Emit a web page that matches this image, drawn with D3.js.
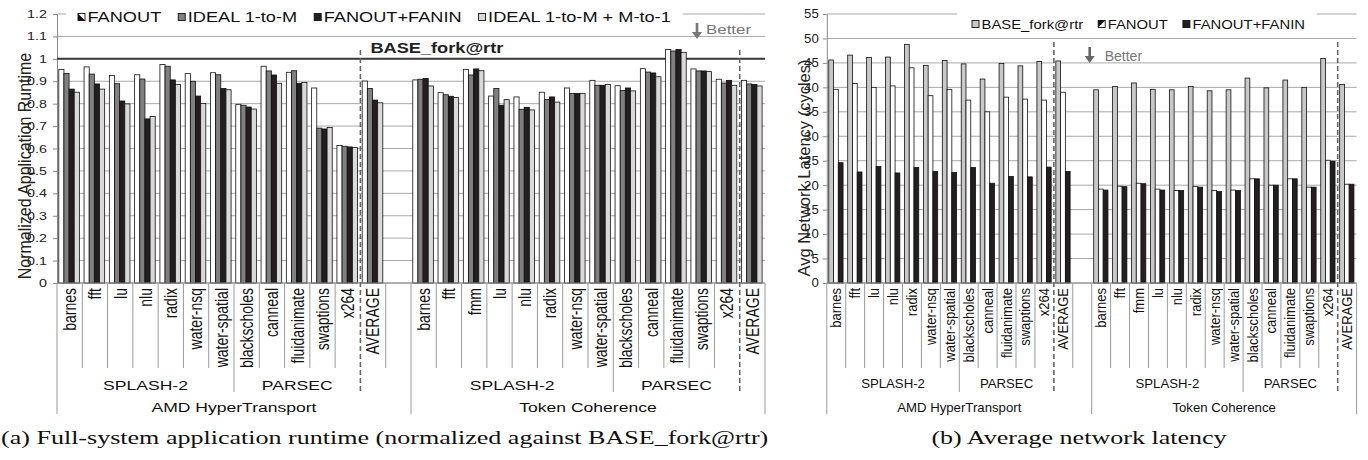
<!DOCTYPE html>
<html>
<head>
<meta charset="utf-8">
<script src="https://cdn.jsdelivr.net/npm/d3@7"></script>
<style>
  body { margin: 0; background: #fff; }
  svg { display: block; }
</style>
</head>
<body>
<svg id="fig" width="1368" height="460"></svg>
<script>
// ---- benchmarks ----
const amdBench = ["barnes","fft","lu","nlu","radix","water-nsq","water-spatial","blackscholes","canneal","fluidanimate","swaptions","x264","AVERAGE"];
const tcBench  = ["barnes","fft","fmm","lu","nlu","radix","water-nsq","water-spatial","blackscholes","canneal","fluidanimate","swaptions","x264","AVERAGE"];
const parsecBench = ["blackscholes","canneal","fluidanimate","swaptions","x264"];
const groups = ["AMD HyperTransport", "Token Coherence"];

// ---- (a) normalized runtime ----
const rtSeries = ["FANOUT", "IDEAL 1-to-M", "FANOUT+FANIN", "IDEAL 1-to-M + M-to-1"];
const rtFanoutAMD    = [0.953,0.964,0.926,0.929,0.975,0.934,0.938,0.797,0.967,0.940,0.870,0.613,0.901];
const rtIdeal1MAMD   = [0.935,0.932,0.889,0.910,0.967,0.900,0.929,0.793,0.946,0.947,0.691,0.610,0.868];
const rtFaninAMD     = [0.865,0.888,0.812,0.732,0.906,0.834,0.868,0.785,0.928,0.891,0.687,0.607,0.816];
const rtIdealBothAMD = [0.851,0.865,0.799,0.743,0.886,0.801,0.862,0.776,0.891,0.894,0.694,0.604,0.804];
const rtFanoutTC     = [0.906,0.849,0.953,0.834,0.830,0.851,0.870,0.904,0.880,0.956,1.042,0.955,0.909,0.904];
const rtIdeal1MTC    = [0.909,0.840,0.928,0.868,0.775,0.818,0.846,0.882,0.859,0.941,1.035,0.946,0.892,0.888];
const rtFaninTC      = [0.912,0.833,0.955,0.793,0.784,0.830,0.846,0.882,0.870,0.937,1.042,0.946,0.904,0.886];
const rtIdealBothTC  = [0.879,0.827,0.947,0.818,0.772,0.807,0.846,0.886,0.857,0.920,1.029,0.943,0.882,0.879];
const rtTicks = [0,0.1,0.2,0.3,0.4,0.5,0.6,0.7,0.8,0.9,1,1.1,1.2];

// ---- (b) network latency ----
const latSeries = ["BASE_fork@rtr", "FANOUT", "FANOUT+FANIN"];
const latBaseAMD   = [45.6,46.6,46.1,46.2,48.8,44.5,45.5,44.8,41.7,44.9,44.4,45.3,45.4];
const latFanoutAMD = [39.6,40.8,40.0,40.3,44.0,38.3,39.6,37.4,35.0,38.0,37.6,37.4,39.0];
const latFaninAMD  = [24.6,22.7,23.8,22.5,23.6,22.8,22.6,23.6,20.4,21.8,21.7,23.7,22.8];
const latBaseTC    = [39.5,40.2,40.9,39.6,39.5,40.2,39.3,39.5,41.9,39.9,41.5,40.0,45.9,40.6];
const latFanoutTC  = [19.2,19.8,20.4,19.2,18.9,19.7,18.9,19.0,21.3,20.0,21.3,19.6,25.1,20.2];
const latFaninTC   = [19.0,19.7,20.3,19.0,18.9,19.6,18.7,18.9,21.3,20.0,21.3,19.6,24.9,20.2];
const latTicks = [0,5,10,15,20,25,30,35,40,45,50,55];

const SANS = "Liberation Sans, Arial, Helvetica, sans-serif";
const SERIF = "Liberation Serif, Times New Roman, serif";
const svg = d3.select("#fig");

function suiteOf(b) {
  if (b === "AVERAGE") return "AVG";
  return parsecBench.includes(b) ? "PARSEC" : "SPLASH-2";
}

// one slot per benchmark, AMD block gets a blank slot at its end
function buildSlots(amdSets, tcSets) {
  const out = [];
  amdBench.forEach((b, i) => out.push({ key: "amd:" + b, group: groups[0], bench: b, suite: suiteOf(b), vals: amdSets.map(s => s[i]) }));
  out.push({ key: "amd:gap", group: groups[0], bench: "", suite: "gap", vals: [] });
  tcBench.forEach((b, i) => out.push({ key: "tc:" + b, group: groups[1], bench: b, suite: suiteOf(b), vals: tcSets.map(s => s[i]) }));
  return out;
}

// horizontally stretched text (the source figure is widened)
function sText(parent, x, y, str, o) {
  const t = parent.append("text")
    .attr("transform", `translate(${x},${y}) scale(${o.sx},1)` + (o.rotate ? ` rotate(${o.rotate})` : ""))
    .attr("text-anchor", o.anchor || "middle")
    .attr("font-family", SANS)
    .attr("font-size", o.size)
    .attr("fill", o.fill || "#000")
    .text(str);
  if (o.weight) t.attr("font-weight", o.weight);
  if (o.dy) t.attr("dy", o.dy);
  return t;
}

function arrowDown(g, x, y1, y2, color) {
  g.append("line").attr("x1", x).attr("x2", x).attr("y1", y1).attr("y2", y2 - 5)
    .attr("stroke", color).attr("stroke-width", 2.6);
  g.append("path").attr("d", `M${x - 5},${y2 - 7}L${x + 5},${y2 - 7}L${x},${y2}Z`).attr("fill", color);
}

function drawChart(c) {
  const g = svg.append("g");
  const x = d3.scaleBand().domain(c.slots.map(d => d.key)).range([c.left, c.right]).padding(0);
  const step = x.step();
  const y = d3.scaleLinear().domain([0, c.yMax]).range([c.bottom, c.top]);
  const inner = d3.scaleBand().domain(d3.range(c.series.length))
    .range([step * c.inner[0], step * c.inner[1]]).padding(0);

  // gridlines
  g.append("g").selectAll("line").data(c.ticks).join("line")
    .attr("x1", c.left).attr("x2", c.right)
    .attr("y1", d => y(d)).attr("y2", d => y(d))
    .attr("stroke", "#a9a9a9").attr("stroke-width", 1);

  // y axis
  const ya = g.append("g").attr("transform", `translate(${c.left},0)`)
    .call(d3.axisLeft(y).tickValues(c.ticks).tickFormat(d => String(d)).tickSize(4).tickSizeOuter(0));
  ya.select(".domain").attr("stroke", "#8a8a8a");
  ya.selectAll(".tick line").attr("stroke", "#8a8a8a");
  ya.selectAll(".tick text")
    .attr("x", null)
    .attr("transform", `translate(${-c.tickPad},0) scale(${c.sx},1)`)
    .attr("font-family", SANS).attr("font-size", c.tickSize).attr("fill", "#222");

  // y title
  sText(g, c.titleX, c.titleY, c.yTitle, { sx: c.titleSx, size: c.titleSize, rotate: -90, fill: "#222" });

  if (c.before) c.before(g, x, y);

  // bars
  const slotG = g.append("g").selectAll("g").data(c.slots).join("g")
    .attr("transform", d => `translate(${x(d.key)},0)`);
  slotG.selectAll("rect").data(d => d.vals.map((v, i) => ({ v, i }))).join("rect")
    .attr("x", d => inner(d.i))
    .attr("width", inner.bandwidth())
    .attr("y", d => y(d.v))
    .attr("height", d => y(0) - y(d.v))
    .attr("fill", d => c.colors[d.i])
    .attr("stroke", "#111").attr("stroke-width", 0.8);

  // x axis line
  g.append("line").attr("x1", c.left).attr("x2", c.right).attr("y1", c.bottom).attr("y2", c.bottom)
    .attr("stroke", "#8a8a8a");

  // category labels
  g.append("g").selectAll("text").data(c.slots.filter(d => d.bench)).join("text")
    .attr("transform", d => `translate(${x(d.key) + step / 2},${c.bottom + 5}) scale(${c.sx},1) rotate(-90)`)
    .attr("text-anchor", "end").attr("dy", "0.35em")
    .attr("font-family", SANS).attr("font-size", c.labelSize).attr("fill", "#111")
    .text(d => d.bench);

  // separators: bench / suite / group levels
  const rowBench = 368, rowSuite = 392, rowGroup = 414;
  const dashed = [];
  d3.range(c.slots.length + 1).forEach(i => {
    const a = c.slots[i - 1], b = c.slots[i];
    const xp = c.left + i * step;
    let y2 = rowBench;
    if (!a || !b || a.group !== b.group) y2 = rowGroup;
    else if (a.suite === "gap" || b.suite === "gap") y2 = rowBench;
    else if (b.suite === "AVG") { dashed.push(xp); return; }
    else if (a.suite !== b.suite) y2 = rowSuite;
    g.append("line").attr("x1", xp).attr("x2", xp).attr("y1", c.bottom).attr("y2", y2)
      .attr("stroke", "#9a9a9a").attr("stroke-width", 1);
  });

  // suite labels
  const runs = [];
  c.slots.forEach((d, i) => {
    const last = runs[runs.length - 1];
    if (last && last.group === d.group && last.suite === d.suite) last.end = i + 1;
    else runs.push({ group: d.group, suite: d.suite, start: i, end: i + 1 });
  });
  runs.filter(r => r.suite === "SPLASH-2" || r.suite === "PARSEC").forEach(r => {
    sText(g, c.left + (r.start + r.end) / 2 * step, c.suiteY, r.suite, { sx: c.sx, size: c.rowSize, fill: "#111" });
  });
  groups.forEach(gr => {
    const idx = c.slots.map((d, i) => d.group === gr ? i : -1).filter(i => i >= 0);
    const mid = c.left + (idx[0] + idx[idx.length - 1] + 1) / 2 * step;
    sText(g, mid, c.groupY, gr, { sx: c.sx, size: c.rowSize, fill: "#111" });
  });

  // dashed dividers before AVERAGE
  dashed.forEach(xp => {
    g.append("line").attr("x1", xp).attr("x2", xp).attr("y1", c.dashTop).attr("y2", rowSuite)
      .attr("stroke", "#666").attr("stroke-width", 1.6).attr("stroke-dasharray", "5,3");
  });

  // legend
  const lg = g.append("g");
  const box = lg.append("rect").attr("fill", "#fff");
  let lx = c.legendX;
  c.series.forEach((s, i) => {
    const iy = c.legendY - 8.5;
    lg.append("rect").attr("x", lx).attr("y", iy).attr("width", 7).attr("height", 7)
      .attr("fill", c.colors[i]).attr("stroke", "#111").attr("stroke-width", 0.9);
    if (s === "FANOUT") {
      lg.append("path").attr("d", c.hatch(lx, iy)).attr("fill", "#111");
    }
    const t = sText(lg, lx + 9.5, c.legendY, s, { sx: c.sx, size: c.legendSize, anchor: "start", fill: "#111" });
    lx = lx + 9.5 + t.node().getComputedTextLength() * c.sx + c.legendGap;
  });
  box.attr("x", c.legendX - c.boxPad[0]).attr("y", c.legendY - 18)
    .attr("width", lx - c.legendGap + c.boxPad[1] - (c.legendX - c.boxPad[0])).attr("height", 24);

  if (c.after) c.after(g, x, y);
  return { x, y };
}

// ---- chart (a) ----
drawChart({
  slots: buildSlots([rtFanoutAMD, rtIdeal1MAMD, rtFaninAMD, rtIdealBothAMD], [rtFanoutTC, rtIdeal1MTC, rtFaninTC, rtIdealBothTC]),
  series: rtSeries,
  colors: ["#ffffff", "#808080", "#231f20", "#d9d9d9"],
  left: 57, right: 765, top: 14, bottom: 283, yMax: 1.2, ticks: rtTicks,
  inner: [0.07, 0.885], sx: 1.3,
  tickPad: 10, tickSize: 11, labelSize: 14, rowSize: 13.5, suiteY: 389.5, groupY: 412,
  yTitle: "Normalized Application Runtime", titleX: 31, titleY: 166, titleSize: 16, titleSx: 1.1,
  dashTop: 50,
  legendX: 78, legendY: 22, legendSize: 14, legendGap: 17, boxPad: [12, 12],
  hatch: (x0, y0) => `M${x0},${y0}L${x0 + 7},${y0 + 7}L${x0},${y0 + 7}Z`,
  before: (g, x, y) => {
    g.append("line").attr("x1", 57).attr("x2", 765).attr("y1", y(1)).attr("y2", y(1))
      .attr("stroke", "#3a3a3a").attr("stroke-width", 2);
  },
  after: (g, x, y) => {
    const avgX = x("amd:AVERAGE");
    sText(g, avgX + 10, y(1) - 6, "BASE_fork@rtr", { sx: 1.3, size: 14, anchor: "start", weight: "bold", fill: "#222" });
    arrowDown(g, 697, 23, 39, "#777");
    sText(g, 706, 34, "Better", { sx: 1.3, size: 13, anchor: "start", fill: "#777" });
  }
});

// ---- chart (b) ----
drawChart({
  slots: buildSlots([latBaseAMD, latFanoutAMD, latFaninAMD], [latBaseTC, latFanoutTC, latFaninTC]),
  series: latSeries,
  colors: ["#c8c8c8", "#ffffff", "#231f20"],
  left: 826.8, right: 1356.6, top: 14, bottom: 283, yMax: 55, ticks: latTicks,
  inner: [0.105, 0.86], sx: 1.1,
  tickPad: 8, tickSize: 12, labelSize: 13, rowSize: 12, suiteY: 387.5, groupY: 411.5,
  yTitle: "Avg Network Latency (cycles)", titleX: 810, titleY: 168, titleSize: 16.5, titleSx: 1.0,
  dashTop: 42,
  legendX: 972, legendY: 29, legendSize: 13.5, legendGap: 15, boxPad: [15, 12],
  hatch: (x0, y0) => `M${x0},${y0}L${x0 + 7},${y0}L${x0},${y0 + 7}Z`,
  after: (g, x, y) => {
    const tx = x("tc:barnes");
    arrowDown(g, tx - 2, 47, 63, "#666");
    sText(g, tx + 13, 61, "Better", { sx: 1.0, size: 14, anchor: "start", fill: "#777" });
  }
});

// ---- captions ----
const capA = svg.append("text").attr("font-family", SERIF).attr("font-size", 18).attr("fill", "#111")
  .text("(a) Full-system application runtime (normalized against BASE_fork@rtr)");
const capSx = 768 / capA.node().getComputedTextLength();
capA.attr("transform", `translate(1,444) scale(${capSx},1)`);
svg.append("text").attr("font-family", SERIF).attr("font-size", 18).attr("fill", "#111")
  .attr("text-anchor", "middle")
  .attr("transform", `translate(1079,444) scale(${capSx},1)`)
  .text("(b) Average network latency");
</script>
</body>
</html>
